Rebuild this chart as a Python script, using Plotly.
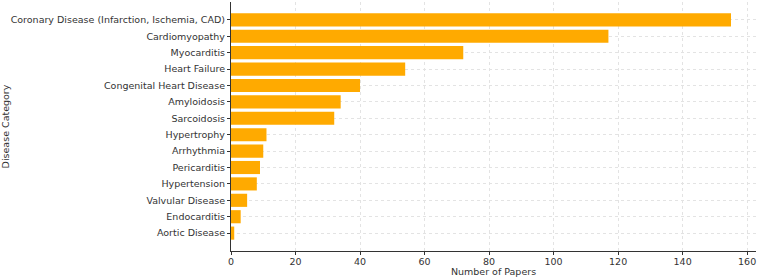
import plotly.graph_objects as go

categories = ["Coronary Disease (Infarction, Ischemia, CAD)", "Cardiomyopathy", "Myocarditis",
              "Heart Failure", "Congenital Heart Disease", "Amyloidosis", "Sarcoidosis",
              "Hypertrophy", "Arrhythmia", "Pericarditis", "Hypertension", "Valvular Disease",
              "Endocarditis", "Aortic Disease"]
papers = [155, 117, 72, 54, 40, 34, 32, 11, 10, 9, 8, 5, 3, 1]
x_ticks = [0, 20, 40, 60, 80, 100, 120, 140, 160]

fig = go.Figure(go.Bar(
    x=papers, y=categories, orientation="h",
    marker=dict(color="#FFAA00", line=dict(width=0)), width=0.8,
))

font = dict(family="DejaVu Sans", size=9.5, color="#333333")
fig.update_layout(
    width=760, height=278,
    margin=dict(l=231, r=4, t=2, b=27),
    paper_bgcolor="white", plot_bgcolor="white",
    font=font, showlegend=False, bargap=0.2,
    xaxis=dict(range=[0, 162.75], tickvals=x_ticks, showgrid=True, gridcolor="#E3E3E3",
               griddash="dot", zeroline=False, showline=True, linecolor="#333333", linewidth=1.2,
               ticks="outside", ticklen=3, tickcolor="#333333", automargin=False,
               ticklabelstandoff=-2,
               title=dict(text="Number of Papers", font=font, standoff=1)),
    yaxis=dict(categoryorder="array", categoryarray=categories[::-1], range=[-1.09, 14.09],
               showgrid=True, gridcolor="#E3E3E3", griddash="dot", zeroline=False,
               showline=True, linecolor="#333333", linewidth=1.2,
               ticks="outside", ticklen=3, tickcolor="#333333", automargin=False,
               title=dict(text="Disease Category", font=font)),
)
fig.write_html("out.html")
